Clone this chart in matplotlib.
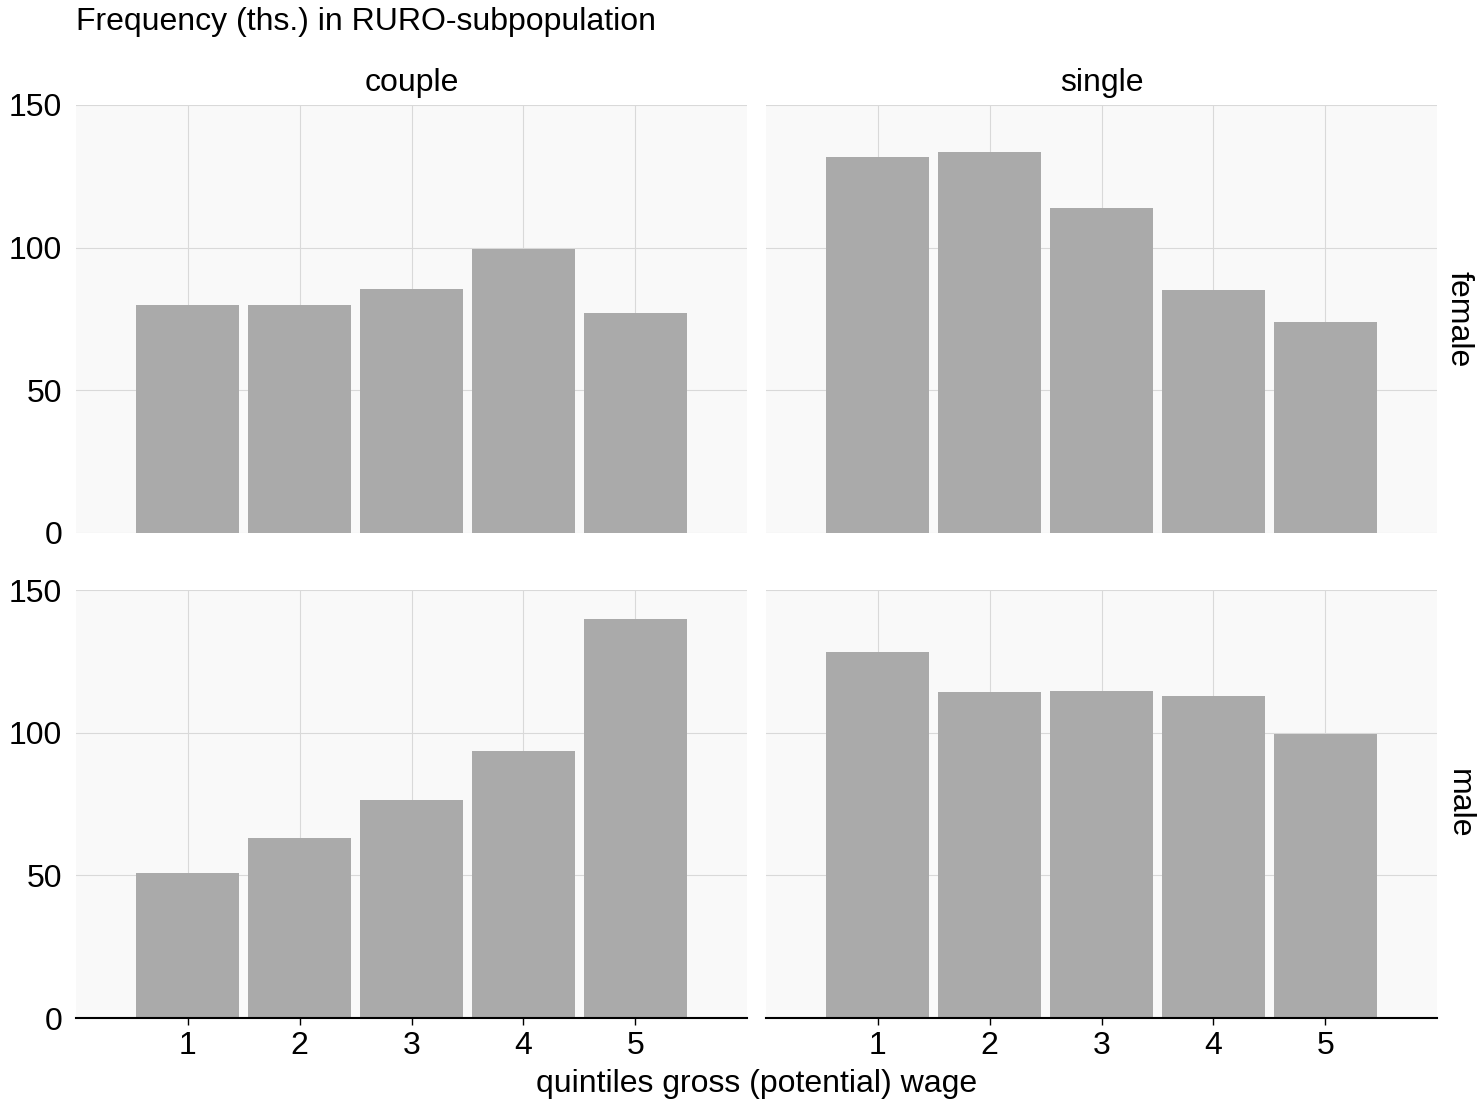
import matplotlib
matplotlib.use("Agg")
import matplotlib.pyplot as plt
import numpy as np

plt.rcParams['font.family'] = ['Liberation Sans', 'DejaVu Sans']

quintiles = [1, 2, 3, 4, 5]
columns = ["couple", "single"]
rows = ["female", "male"]
female_couple = [80.0, 80.0, 85.5, 99.7, 77.2]
female_single = [131.8, 133.6, 114.0, 85.0, 74.0]
male_couple = [50.9, 63.0, 76.5, 93.6, 140.0]
male_single = [128.3, 114.3, 114.7, 112.7, 99.6]

data = {("female", "couple"): female_couple, ("female", "single"): female_single,
        ("male", "couple"): male_couple, ("male", "single"): male_single}

FS = 23
fig = plt.figure(figsize=(14.8, 11.02), dpi=100)
W, H = 1480, 1102
lefts = [76, 766]
pw = 671
tops = [105, 590]
ph = 428
for i, r in enumerate(rows):
    for j, c in enumerate(columns):
        ax = fig.add_axes([lefts[j] / W, 1 - (tops[i] + ph) / H, pw / W, ph / H])
        ax.set_facecolor("#f9f9f9")
        ax.bar(quintiles, data[(r, c)], width=0.92, color="#aaaaaa", zorder=2)
        ax.set_xlim(0, 6)
        ax.set_ylim(0, 150)
        ax.set_yticks([0, 50, 100, 150])
        ax.set_xticks(quintiles)
        ax.grid(True, color="#d9d9d9", linewidth=0.8, zorder=0)
        for s in ["top", "right", "left"]:
            ax.spines[s].set_visible(False)
        ax.tick_params(axis="y", length=0, labelsize=FS, pad=10)
        if i == 0:
            ax.spines["bottom"].set_visible(False)
            ax.tick_params(axis="x", length=0, labelbottom=False)
            ax.set_title(c, fontsize=FS, pad=10)
        else:
            ax.spines["bottom"].set_color("black")
            ax.spines["bottom"].set_linewidth(1.5)
            ax.tick_params(axis="x", length=5, width=1, labelsize=FS, pad=4)
        if j == 1:
            ax.tick_params(axis="y", labelleft=False)
            ax.text(1.032, 0.5, r, transform=ax.transAxes, rotation=-90,
                    va="center", ha="center", fontsize=FS)

fig.text(76 / W, 1 - 22 / H, "Frequency (ths.) in RURO-subpopulation", fontsize=FS,
         ha="left", va="center")
fig.text(757 / W, 1 - 1084 / H, "quintiles gross (potential) wage", fontsize=FS,
         ha="center", va="center")

fig.savefig("out.png", dpi=100)
